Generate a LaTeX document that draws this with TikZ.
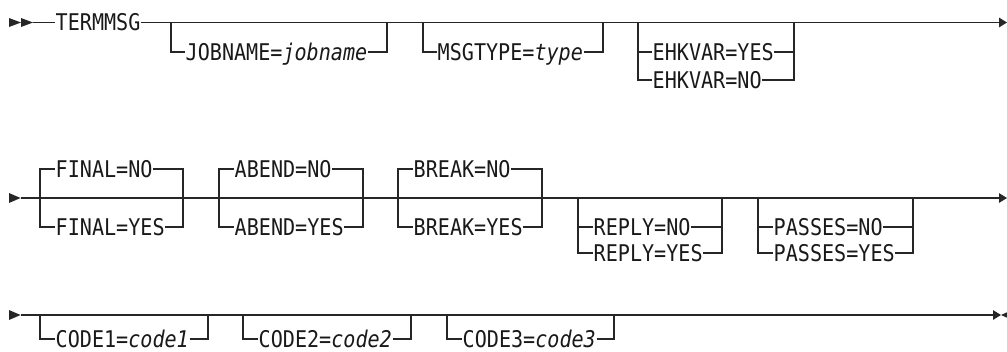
\documentclass[tikz,border=0pt]{standalone}
\usepackage{fontspec}
\setmonofont[FakeStretch=0.874]{DejaVu Sans Mono}
\usetikzlibrary{arrows.meta}
\tikzset{rail/.style={line width=1.3pt, black!85},
  endtip/.style={-{Triangle[length=8pt,width=9.5pt]}},
  opt/.style={anchor=west, inner xsep=0.5pt, inner ysep=0pt, text height=20.8pt, text depth=4pt,
    text=black!90, font=\ttfamily\fontsize{23}{26}\selectfont}}

\begin{document}
\begin{tikzpicture}[x=1pt,y=-1pt]
\useasboundingbox (0,0) rectangle (1007,351);
% first row
\fill[black!85] (9,18) -- (21,22.5) -- (9,27) -- cycle (21,18) -- (33,22.5) -- (21,27) -- cycle;
\coordinate (r1s) at (33,22.5);
\coordinate (r1e) at (1007,22.5);
\node[opt] (term) at (55,22.5) {TERMMSG};
\draw[rail] (r1s) -- (term.west);
\draw[rail,endtip] (term.east) -- (r1e);
\coordinate (jobL) at (171,22.5); \coordinate (jobR) at (387,22.5);
\node[opt] (job) at (185,52) {JOBNAME=\textit{jobname}};
\draw[rail] (jobL) |- (job.west) (job.east) -| (jobR);
\coordinate (msgL) at (423,22.5); \coordinate (msgR) at (603,22.5);
\node[opt] (msg) at (437,52) {MSGTYPE=\textit{type}};
\draw[rail] (msgL) |- (msg.west) (msg.east) -| (msgR);
\coordinate (ehkL) at (638,22.5); \coordinate (ehkR) at (794,22.5);
\node[opt] (ehkyes) at (652,52) {EHKVAR=YES};
\node[opt] (ehkno) at (652,80) {EHKVAR=NO};
\draw[rail] (ehkL) |- (ehkyes.west) (ehkyes.east) -| (ehkR);
\draw[rail] (ehkL) |- (ehkno.west) (ehkno.east) -| (ehkR);
% second row
\fill[black!85] (9,193) -- (20.5,198) -- (9,203) -- cycle;
\coordinate (r2s) at (20.5,198);
\coordinate (r2e) at (1007,198);
\draw[rail,endtip] (r2s) -- (r2e);
\coordinate (finL) at (40,198); \coordinate (finR) at (183,198);
\node[opt] (finno) at (55,169) {FINAL=NO};
\node[opt] (finyes) at (55,227) {FINAL=YES};
\draw[rail] (finL) |- (finno.west) (finno.east) -| (finR);
\draw[rail] (finL) |- (finyes.west) (finyes.east) -| (finR);
\coordinate (abL) at (219,198); \coordinate (abR) at (363,198);
\node[opt] (abno) at (234,169) {ABEND=NO};
\node[opt] (abyes) at (234,227) {ABEND=YES};
\draw[rail] (abL) |- (abno.west) (abno.east) -| (abR);
\draw[rail] (abL) |- (abyes.west) (abyes.east) -| (abR);
\coordinate (brL) at (398,198); \coordinate (brR) at (542,198);
\node[opt] (brno) at (413,169) {BREAK=NO};
\node[opt] (bryes) at (413,227) {BREAK=YES};
\draw[rail] (brL) |- (brno.west) (brno.east) -| (brR);
\draw[rail] (brL) |- (bryes.west) (bryes.east) -| (brR);
\coordinate (repL) at (578,198); \coordinate (repR) at (722,198);
\node[opt] (repno) at (593,227) {REPLY=NO};
\node[opt] (repyes) at (593,253) {REPLY=YES};
\draw[rail] (repL) |- (repno.west) (repno.east) -| (repR);
\draw[rail] (repL) |- (repyes.west) (repyes.east) -| (repR);
\coordinate (pasL) at (758,198); \coordinate (pasR) at (913,198);
\node[opt] (pasno) at (773,227) {PASSES=NO};
\node[opt] (pasyes) at (773,253) {PASSES=YES};
\draw[rail] (pasL) |- (pasno.west) (pasno.east) -| (pasR);
\draw[rail] (pasL) |- (pasyes.west) (pasyes.east) -| (pasR);
% third row
\fill[black!85] (9,310) -- (20.5,315) -- (9,320) -- cycle;
\coordinate (r3s) at (20.5,315);
\coordinate (r3e) at (1001,315);
\draw[rail,endtip] (r3s) -- (r3e);
\fill[black!85] (1001,315) -- (1012,310) -- (1012,320) -- cycle;
\coordinate (c1L) at (40,315); \coordinate (c1R) at (208,315);
\node[opt] (c1) at (55,339) {CODE1=\textit{code1}};
\draw[rail] (c1L) |- (c1.west) (c1.east) -| (c1R);
\coordinate (c2L) at (243,315); \coordinate (c2R) at (411,315);
\node[opt] (c2) at (258,339) {CODE2=\textit{code2}};
\draw[rail] (c2L) |- (c2.west) (c2.east) -| (c2R);
\coordinate (c3L) at (447,315); \coordinate (c3R) at (614,315);
\node[opt] (c3) at (462,339) {CODE3=\textit{code3}};
\draw[rail] (c3L) |- (c3.west) (c3.east) -| (c3R);
\end{tikzpicture}
\end{document}
